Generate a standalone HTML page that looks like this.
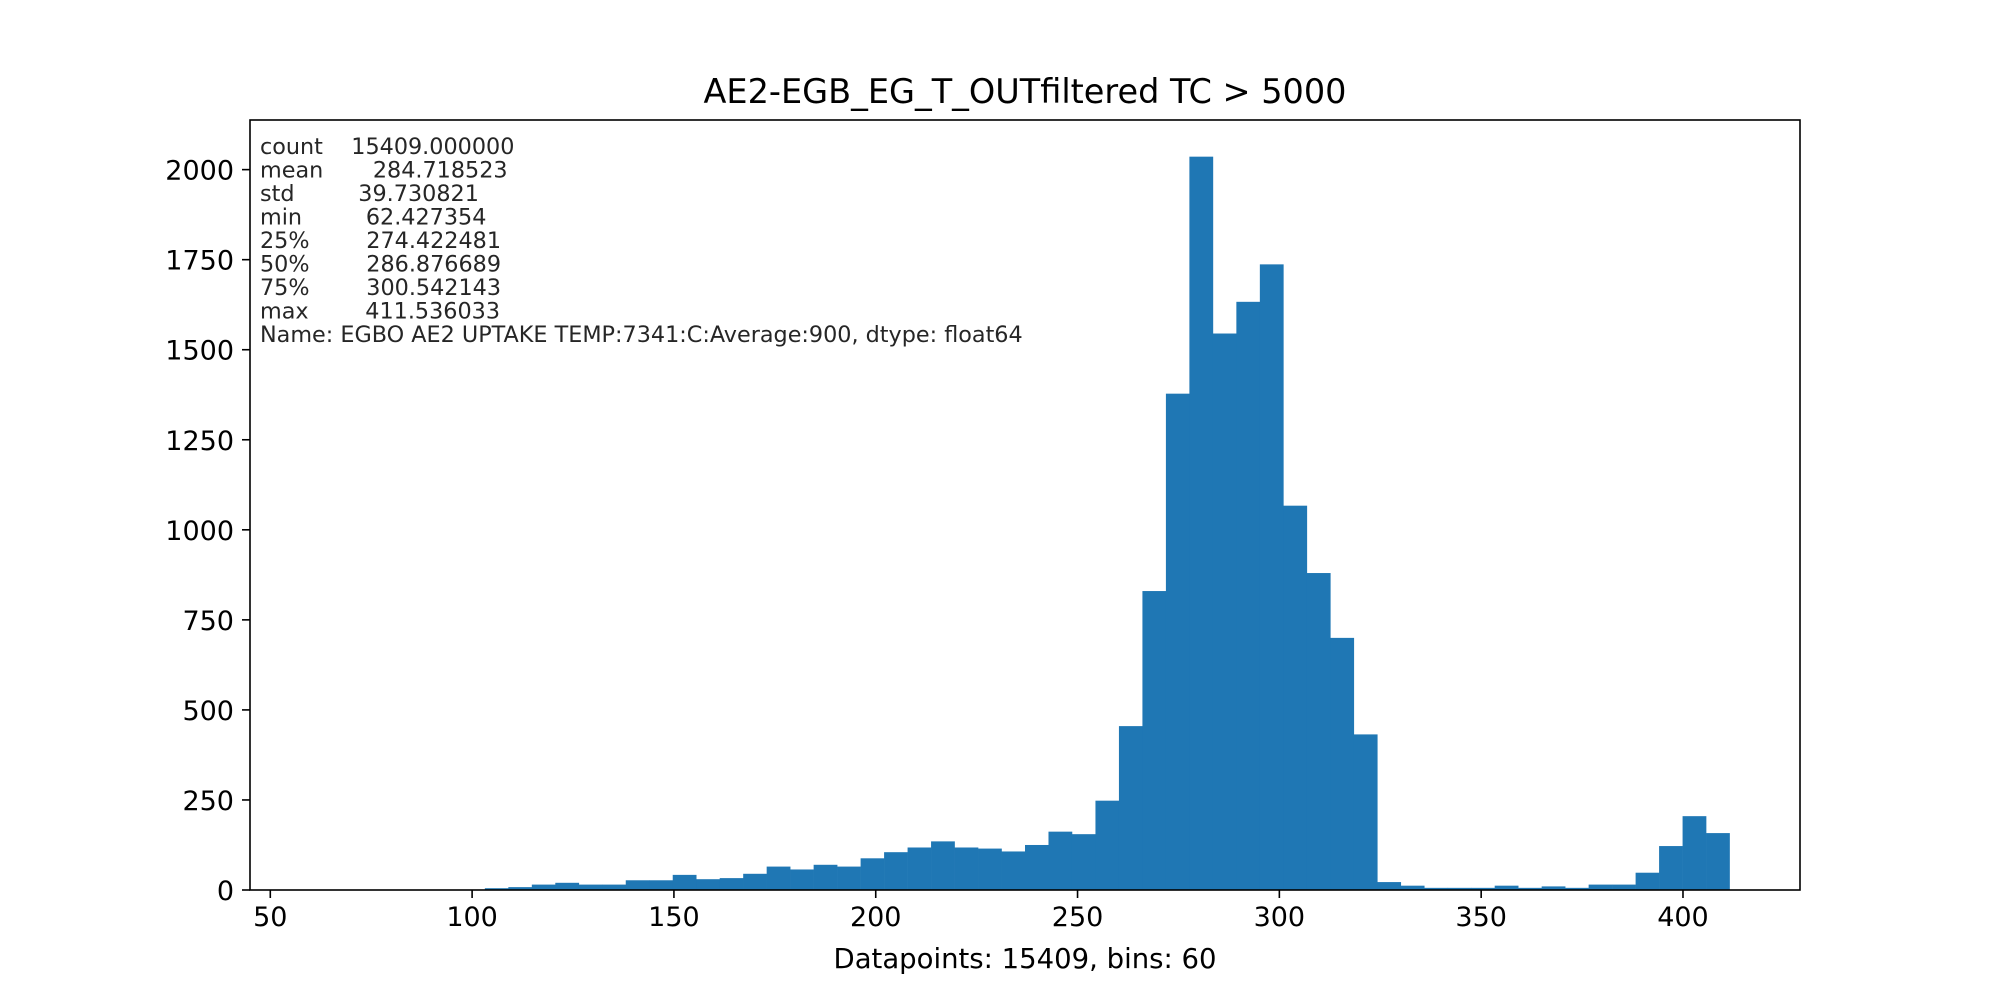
<!DOCTYPE html>
<html><head><meta charset="utf-8"><style>
html,body{margin:0;padding:0;background:#fff;}
svg{display:block;font-family:"DejaVu Sans","Liberation Sans",sans-serif;}
</style></head><body>
<svg id="chart" width="2000" height="1000" viewBox="0 0 2000 1000">
<rect x="0" y="0" width="2000" height="1000" fill="#fff"/>
<g id="bars"></g>
<g id="xticks"></g>
<g id="yticks"></g>
<rect x="250" y="120" width="1550" height="770" fill="none" stroke="#000" stroke-width="1.6"/>
<text x="1025" y="103" font-size="33.5" text-anchor="middle" fill="#000">AE2-EGB_EG_T_OUTfiltered TC &gt; 5000</text>
<text x="1025" y="968" font-size="27.5" text-anchor="middle" fill="#000">Datapoints: 15409, bins: 60</text>
<text x="260" y="0" font-size="22.3" fill="#262626" xml:space="preserve"><tspan x="260" y="154">count    15409.000000</tspan><tspan x="260" y="177.5">mean       284.718523</tspan><tspan x="260" y="201">std         39.730821</tspan><tspan x="260" y="224.5">min         62.427354</tspan><tspan x="260" y="248">25%        274.422481</tspan><tspan x="260" y="271.5">50%        286.876689</tspan><tspan x="260" y="295">75%        300.542143</tspan><tspan x="260" y="318.5">max        411.536033</tspan><tspan x="260" y="342">Name: EGBO AE2 UPTAKE TEMP:7341:C:Average:900, dtype: float64</tspan></text>
</svg>
<script>
const binStart = 62.427354;
const binEnd = 411.536033;
const counts = [0,0,0,0,0,0,1,5,8,15,20,15,15,27,27,42,30,33,45,65,57,70,65,88,105,118,135,118,115,107,125,162,155,248,455,830,1378,2036,1545,1633,1737,1067,880,700,432,22,12,6,6,6,12,6,10,6,15,15,48,122,205,158];
const xTicks = [50,100,150,200,250,300,350,400];
const yTicks = [0,250,500,750,1000,1250,1500,1750,2000];

const NS = "http://www.w3.org/2000/svg";
const L = 250, R = 1800, T = 120, B = 890;
const span = binEnd - binStart;
const xMin = binStart - span * 0.05, xMax = binEnd + span * 0.05;
const yMax = Math.max(...counts) * 1.05;
const xs = v => L + (v - xMin) / (xMax - xMin) * (R - L);
const ys = v => B - v / yMax * (B - T);
const bw = span / counts.length;

const bars = document.getElementById('bars');
counts.forEach((c, i) => {
  const x0 = xs(binStart + i * bw), x1 = xs(binStart + (i + 1) * bw);
  const r = document.createElementNS(NS, 'rect');
  r.setAttribute('x', x0);
  r.setAttribute('y', ys(c));
  r.setAttribute('width', x1 - x0 + 0.3);
  r.setAttribute('height', B - ys(c));
  r.setAttribute('fill', '#1f77b4');
  
  
  bars.appendChild(r);
});

const xg = document.getElementById('xticks');
xTicks.forEach(t => {
  const x = xs(t);
  const l = document.createElementNS(NS, 'line');
  l.setAttribute('x1', x); l.setAttribute('x2', x);
  l.setAttribute('y1', B); l.setAttribute('y2', B + 8);
  l.setAttribute('stroke', '#000'); l.setAttribute('stroke-width', '1.6');
  
  
  xg.appendChild(l);
  const tx = document.createElementNS(NS, 'text');
  tx.setAttribute('x', x); tx.setAttribute('y', B + 36);
  tx.setAttribute('font-size', '27'); tx.setAttribute('text-anchor', 'middle');
  tx.textContent = t;
  
  
  xg.appendChild(tx);
});

const yg = document.getElementById('yticks');
yTicks.forEach(t => {
  const y = ys(t);
  const l = document.createElementNS(NS, 'line');
  l.setAttribute('x1', L - 8); l.setAttribute('x2', L);
  l.setAttribute('y1', y); l.setAttribute('y2', y);
  l.setAttribute('stroke', '#000'); l.setAttribute('stroke-width', '1.6');
  
  
  yg.appendChild(l);
  const tx = document.createElementNS(NS, 'text');
  tx.setAttribute('x', L - 16); tx.setAttribute('y', y + 10);
  tx.setAttribute('font-size', '27'); tx.setAttribute('text-anchor', 'end');
  tx.textContent = t;
  
  
  yg.appendChild(tx);
});
</script>
</body></html>
